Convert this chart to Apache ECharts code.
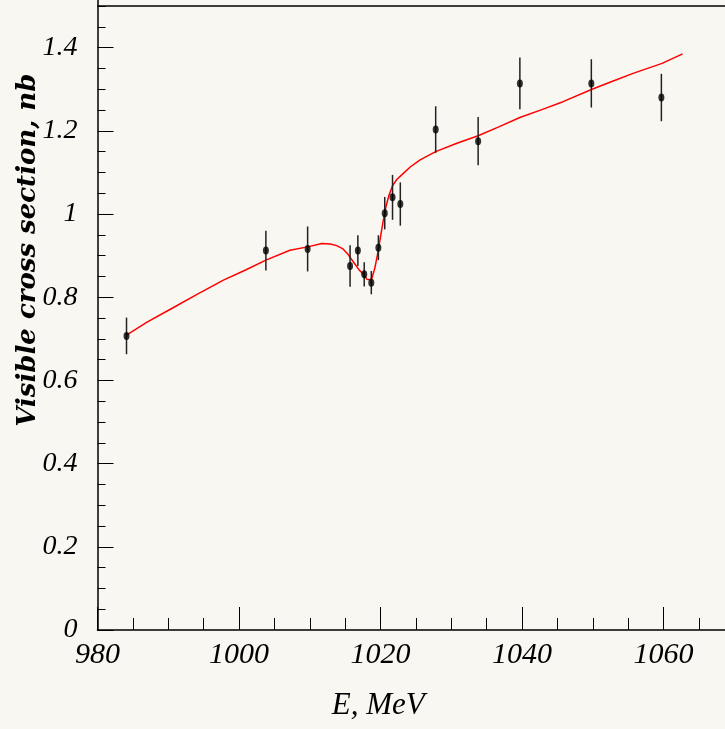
<!DOCTYPE html>
<html><head><meta charset="utf-8">
<script src="https://cdn.jsdelivr.net/npm/echarts@6/dist/echarts.min.js"></script>
<style>html,body{margin:0;padding:0;background:#f8f7f2}#c{width:725px;height:729px}</style>
</head><body><div id="c"></div>
<script>
// Measured points
const energies = [984.1, 1003.8, 1009.7, 1015.7, 1016.8, 1017.7, 1018.7, 1019.7, 1020.6, 1021.7, 1022.8, 1027.8, 1033.8, 1039.7, 1049.8, 1059.7];
const sigma    = [0.707, 0.912, 0.916, 0.875, 0.912, 0.855, 0.835, 0.919, 1.002, 1.040, 1.024, 1.203, 1.175, 1.314, 1.314, 1.280];
const errors   = [0.044, 0.048, 0.054, 0.050, 0.037, 0.029, 0.028, 0.030, 0.039, 0.054, 0.052, 0.056, 0.058, 0.062, 0.058, 0.057];
// Fit curve
const fitE     = [984.1, 987, 990.3, 994, 997.8, 1001, 1003.8, 1007.2, 1009.7, 1011.7, 1012.9, 1013.8, 1014.7, 1015.4, 1016.2, 1017.0, 1017.6, 1018.1, 1018.5, 1018.8, 1019.2, 1019.6, 1020.0, 1020.4, 1020.8, 1021.2, 1021.7, 1022.3, 1023.0, 1024.2, 1025.6, 1027.8, 1030.8, 1033.8, 1036.8, 1039.7, 1042.8, 1045.8, 1049.9, 1052.8, 1055.7, 1059.8, 1062.7];
const fitSigma = [0.709, 0.740, 0.771, 0.806, 0.841, 0.866, 0.889, 0.913, 0.921, 0.929, 0.928, 0.924, 0.916, 0.903, 0.884, 0.865, 0.855, 0.843, 0.842, 0.846, 0.870, 0.905, 0.945, 0.985, 1.020, 1.045, 1.068, 1.083, 1.094, 1.113, 1.130, 1.150, 1.170, 1.188, 1.210, 1.232, 1.251, 1.270, 1.300, 1.319, 1.338, 1.362, 1.385];
// Tick labels
const xTickLabels = [980, 1000, 1020, 1040, 1060];
const yTickLabels = [0, 0.2, 0.4, 0.6, 0.8, 1, 1.2, 1.4];
const frameTop = 1.5;

const pts = energies.map((e, i) => [e, sigma[i]]);
const errData = energies.map((e, i) => [e, sigma[i], errors[i]]);
const fit = fitE.map((e, i) => [e, fitSigma[i]]);

const font = 'Liberation Serif';
const chart = echarts.init(document.getElementById('c'));
chart.setOption({
  backgroundColor: '#f8f7f2',
  animation: false,
  grid: { left: 97.5, right: -80, top: -35.6, bottom: 99, outerBoundsMode: 'none', containLabel: false },
  xAxis: {
    type: 'value', min: 980, max: 1080, interval: 20,
    axisLine: { lineStyle: { color: '#000', width: 1.5 } },
    axisTick: { inside: true, length: 23, lineStyle: { color: '#000', width: 1 } },
    minorTick: { show: true, splitNumber: 4, length: 12, lineStyle: { color: '#000', width: 1 } },
    splitLine: { show: false },
    axisLabel: {
      margin: 10, color: '#000', fontFamily: font, fontStyle: 'italic', fontSize: 30,
      formatter: v => xTickLabels.indexOf(v) >= 0 ? String(v) : ''
    },
    name: 'E, MeV', nameLocation: 'middle', nameGap: 60, nameMoveOverlap: false,
    nameTextStyle: { color: '#000', fontFamily: font, fontStyle: 'italic', fontSize: 31, padding: [0, 146, 0, 0] }
  },
  yAxis: {
    type: 'value', min: 0, max: 1.6, interval: 0.2,
    axisLine: { lineStyle: { color: '#000', width: 1.5 } },
    axisTick: { inside: true, length: 16, lineStyle: { color: '#000', width: 1 } },
    minorTick: { show: true, splitNumber: 4, length: 8, lineStyle: { color: '#000', width: 1 } },
    splitLine: { show: false },
    axisLabel: {
      margin: 20, color: '#000', fontFamily: font, fontStyle: 'italic', fontSize: 28,
      formatter: v => { const r = Math.round(v * 10) / 10; return yTickLabels.indexOf(r) >= 0 ? String(r) : ''; }
    },
    name: 'Visible cross section, nb', nameLocation: 'middle', nameRotate: 90, nameGap: 56, nameMoveOverlap: false,
    nameTextStyle: { color: '#000', fontFamily: 'DejaVu Serif', fontStyle: 'italic', fontWeight: 'bold', fontSize: 26, padding: [0, 0, 0, 94] }
  },
  series: [
    {
      type: 'line', data: fit, showSymbol: false, smooth: false,
      lineStyle: { color: '#ff0000', width: 1.5 }, z: 2,
      markLine: {
        silent: true, symbol: 'none', label: { show: false },
        lineStyle: { color: '#000', width: 1.5, type: 'solid' },
        data: [{ yAxis: frameTop }]
      }
    },
    {
      type: 'custom', data: errData, z: 3,
      renderItem: (params, api) => {
        const x = api.value(0), y = api.value(1), e = api.value(2);
        const p1 = api.coord([x, y - e]), p2 = api.coord([x, y + e]);
        return { type: 'line', shape: { x1: p1[0], y1: p1[1], x2: p2[0], y2: p2[1] },
                 style: { stroke: '#222', lineWidth: 1.5 } };
      }
    },
    {
      type: 'scatter', data: pts, symbol: 'circle', symbolSize: [6, 8],
      itemStyle: { color: '#000' }, z: 4
    }
  ]
});
</script></body></html>
